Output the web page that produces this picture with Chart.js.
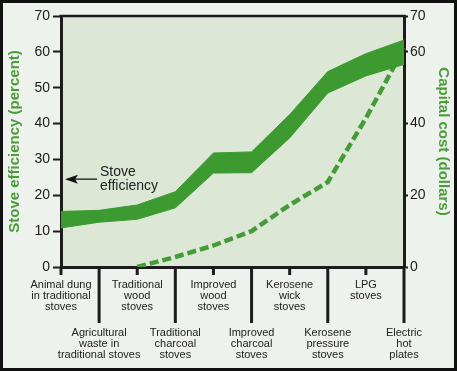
<!DOCTYPE html>
<html>
<head>
<meta charset="utf-8">
<script src="https://cdn.jsdelivr.net/npm/chart.js@4"></script>
<style>
  html, body { margin: 0; padding: 0; background: #eef2ec; }
  #wrap { width: 457px; height: 371px; position: relative; }
</style>
</head>
<body>
<div id="wrap"><canvas id="c"></canvas></div>
<script>
// ---- data ----
const categories = [
  ['Animal dung', 'in traditional', 'stoves'],
  ['Agricultural', 'waste in', 'traditional stoves'],
  ['Traditional', 'wood', 'stoves'],
  ['Traditional', 'charcoal', 'stoves'],
  ['Improved', 'wood', 'stoves'],
  ['Improved', 'charcoal', 'stoves'],
  ['Kerosene', 'wick', 'stoves'],
  ['Kerosene', 'pressure', 'stoves'],
  ['LPG', 'stoves'],
  ['Electric', 'hot', 'plates']
];
const efficiencyHigh = [15.5, 15.8, 17.3, 21.0, 31.8, 32.1, 42.5, 54.5, 59.5, 63.3];
const efficiencyLow  = [10.9, 12.5, 13.3, 16.5, 26.2, 26.3, 36.0, 48.5, 53.3, 56.5];
const capitalCost    = [null, null, 0, 2.8, 6.0, 10.0, 17.3, 23.7, 41.5, 61.0];
const leftTicks  = [0, 10, 20, 30, 40, 50, 60, 70];
const rightTicks = [0, 20, 40, 60, 70];
const annotationLines = ['Stove', 'efficiency'];

const GREEN = '#3c9a30';
const TITLE_GREEN = '#4a9c3a';
const INK = '#1c1c1c';
const FONT = "'Liberation Sans', Arial, Helvetica, sans-serif";

const decor = {
  id: 'decor',
  beforeDraw(chart) {
    const {ctx, chartArea: a} = chart;
    ctx.save();
    ctx.fillStyle = '#eef2ec';
    ctx.fillRect(0, 0, chart.width, chart.height);
    ctx.fillStyle = '#dde7d6';
    ctx.fillRect(a.left, a.top, a.right - a.left, a.bottom - a.top);
    ctx.restore();
  },
  afterDraw(chart) {
    const {ctx, chartArea: a} = chart;
    const xs = chart.scales.x, ys = chart.scales.y;
    ctx.save();
    // top frame line
    ctx.strokeStyle = INK;
    ctx.lineWidth = 2.5;
    ctx.beginPath();
    ctx.moveTo(a.left - 1.5, a.top);
    ctx.lineTo(a.right + 1.5, a.top);
    ctx.stroke();
    // category ticks + labels
    ctx.font = '11px ' + FONT;
    ctx.fillStyle = '#222';
    ctx.textAlign = 'center';
    ctx.textBaseline = 'middle';
    categories.forEach((lines, i) => {
      const x = xs.getPixelForValue(i);
      const long = i % 2 === 1;
      ctx.lineWidth = 3;
      ctx.beginPath();
      ctx.moveTo(x, a.bottom);
      ctx.lineTo(x, a.bottom + (long ? 56 : 8));
      ctx.stroke();
      const y0 = a.bottom + (long ? 66 : 18);
      lines.forEach((t, k) => ctx.fillText(t, x, y0 + k * 11));
    });
    // annotation
    const ay = ys.getPixelForValue(24.5);
    const tipX = a.left + 4;
    ctx.strokeStyle = '#333';
    ctx.lineWidth = 1.5;
    ctx.beginPath();
    ctx.moveTo(tipX + 8, ay);
    ctx.lineTo(tipX + 32, ay);
    ctx.stroke();
    ctx.fillStyle = '#111';
    ctx.beginPath();
    ctx.moveTo(tipX, ay);
    ctx.lineTo(tipX + 13, ay - 4.5);
    ctx.lineTo(tipX + 10, ay);
    ctx.lineTo(tipX + 13, ay + 4.5);
    ctx.closePath();
    ctx.fill();
    ctx.font = '14px ' + FONT;
    ctx.fillStyle = '#222';
    ctx.textAlign = 'left';
    ctx.textBaseline = 'middle';
    annotationLines.forEach((t, k) => ctx.fillText(t, tipX + 35, ay - 7 + k * 14));
    // outer frame
    ctx.strokeStyle = '#111';
    ctx.lineWidth = 3;
    ctx.strokeRect(1.5, 1.5, chart.width - 3, chart.height - 3);
    ctx.restore();
  }
};

new Chart(document.getElementById('c'), {
  type: 'line',
  data: {
    labels: categories.map(c => c.join(' ')),
    datasets: [
      {
        label: 'Efficiency low', data: efficiencyLow, yAxisID: 'y',
        borderColor: GREEN, borderWidth: 1, pointRadius: 0, fill: false, order: 0, tension: 0
      },
      {
        label: 'Efficiency high', data: efficiencyHigh, yAxisID: 'y',
        borderColor: GREEN, borderWidth: 1, pointRadius: 0, backgroundColor: GREEN,
        fill: '-1', order: 0, tension: 0
      },
      {
        label: 'Capital cost', data: capitalCost, yAxisID: 'y2',
        borderColor: '#449c36', borderWidth: 4.5, borderDash: [9, 4], borderCapStyle: 'butt',
        pointRadius: 0, fill: false, order: 5, tension: 0, spanGaps: false
      }
    ]
  },
  options: {
    responsive: true,
    maintainAspectRatio: false,
    animation: false,
    layout: { padding: { top: 16, bottom: 104, left: 0, right: 0 } },
    plugins: { legend: { display: false }, tooltip: { enabled: false } },
    scales: {
      x: {
        type: 'category',
        offset: false,
        grid: { display: false },
        ticks: { display: false },
        border: { display: true, color: INK, width: 3 },
        afterFit(s) { s.height = 0; }
      },
      y: {
        position: 'left',
        min: 0, max: 70,
        afterBuildTicks(s) { s.ticks = leftTicks.map(v => ({ value: v })); },
        ticks: { color: INK, font: { size: 14, family: FONT }, padding: 3 },
        grid: { drawOnChartArea: false, drawTicks: true, tickLength: 8, tickWidth: 2, tickColor: INK },
        border: { display: true, color: INK, width: 3 },
        title: {
          display: true, text: 'Stove efficiency (percent)', color: TITLE_GREEN,
          font: { size: 15, weight: 'bold', family: FONT }, padding: { top: 6, bottom: 0 }
        },
        afterFit(s) { s.width = 61; }
      },
      y2: {
        position: 'right',
        min: 0, max: 70,
        afterBuildTicks(s) { s.ticks = rightTicks.map(v => ({ value: v })); },
        ticks: { color: INK, font: { size: 14, family: FONT }, padding: 2 },
        grid: { drawOnChartArea: false, drawTicks: true, tickLength: 4, tickWidth: 2, tickColor: INK },
        border: { display: true, color: INK, width: 3 },
        title: {
          display: true, text: 'Capital cost (dollars)', color: TITLE_GREEN,
          font: { size: 15, weight: 'bold', family: FONT }, padding: { top: 5, bottom: 0 }
        },
        afterFit(s) { s.width = 53; }
      }
    }
  },
  plugins: [decor]
});
</script>
</body>
</html>
